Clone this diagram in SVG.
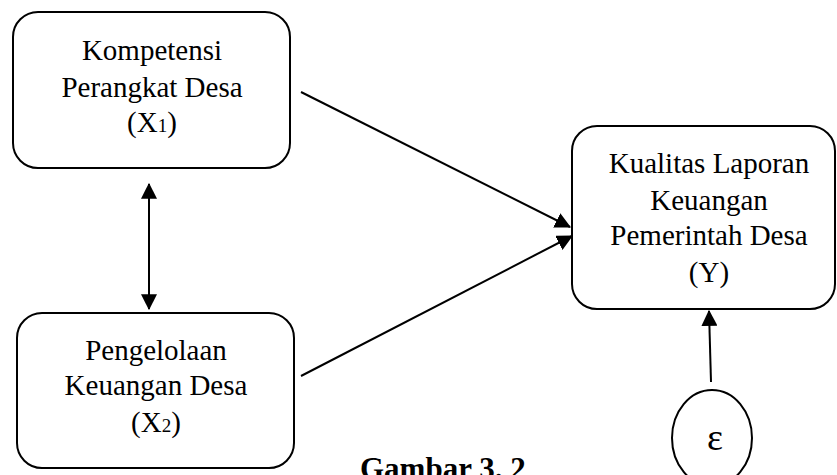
<svg xmlns="http://www.w3.org/2000/svg" width="837" height="475" viewBox="0 0 837 475">
<style>
.box{fill:#fff;stroke:#000;stroke-width:2}
.t{font-family:"Liberation Serif","Times New Roman",serif;font-size:29px;fill:#000;text-anchor:middle}
.sub{font-size:19px}
.ln{stroke:#000;stroke-width:2;fill:none}
.cap{font-family:"Liberation Serif","Times New Roman",serif;font-size:31px;font-weight:bold;fill:#000}
</style>
<defs>
<marker id="ah" markerUnits="userSpaceOnUse" markerWidth="16" markerHeight="16" viewBox="0 0 14 14" refX="13" refY="7" orient="auto-start-reverse">
<path d="M0,0 L14,7 L0,14 Z" fill="#000"/>
</marker>
</defs>
<rect width="837" height="475" fill="#fff"/>
<g id="x1">
<rect class="box" x="13" y="12" width="277" height="156" rx="25" ry="25"/>
<text class="t" x="152" y="60">Kompetensi</text>
<text class="t" x="152" y="97">Perangkat Desa</text>
<text class="t" x="152" y="132">(X<tspan class="sub">1</tspan>)</text>
</g>
<g id="x2">
<rect class="box" x="17" y="313" width="277" height="155" rx="25" ry="25"/>
<text class="t" x="156" y="360">Pengelolaan</text>
<text class="t" x="156" y="395">Keuangan Desa</text>
<text class="t" x="156" y="432">(X<tspan class="sub">2</tspan>)</text>
</g>
<g id="y">
<rect class="box" x="572" y="126" width="263" height="183" rx="25" ry="25"/>
<text class="t" x="709" y="173">Kualitas Laporan</text>
<text class="t" x="709" y="210">Keuangan</text>
<text class="t" x="709" y="245">Pemerintah Desa</text>
<text class="t" x="709" y="282">(Y)</text>
</g>
<g id="e">
<ellipse class="box" cx="712" cy="438" rx="40" ry="48"/>
<text class="t" x="715" y="450" style="font-size:38px">ε</text>
</g>
<g id="connectors">
<line class="ln" x1="149" y1="184" x2="149" y2="309" marker-start="url(#ah)" marker-end="url(#ah)"/>
<line class="ln" x1="301" y1="92" x2="570" y2="227" marker-end="url(#ah)"/>
<line class="ln" x1="301" y1="376" x2="572" y2="236" marker-end="url(#ah)"/>
<line class="ln" x1="711" y1="382" x2="709" y2="311" marker-end="url(#ah)"/>
</g>
<text class="cap" x="360" y="479">Gambar 3. 2</text>
</svg>
